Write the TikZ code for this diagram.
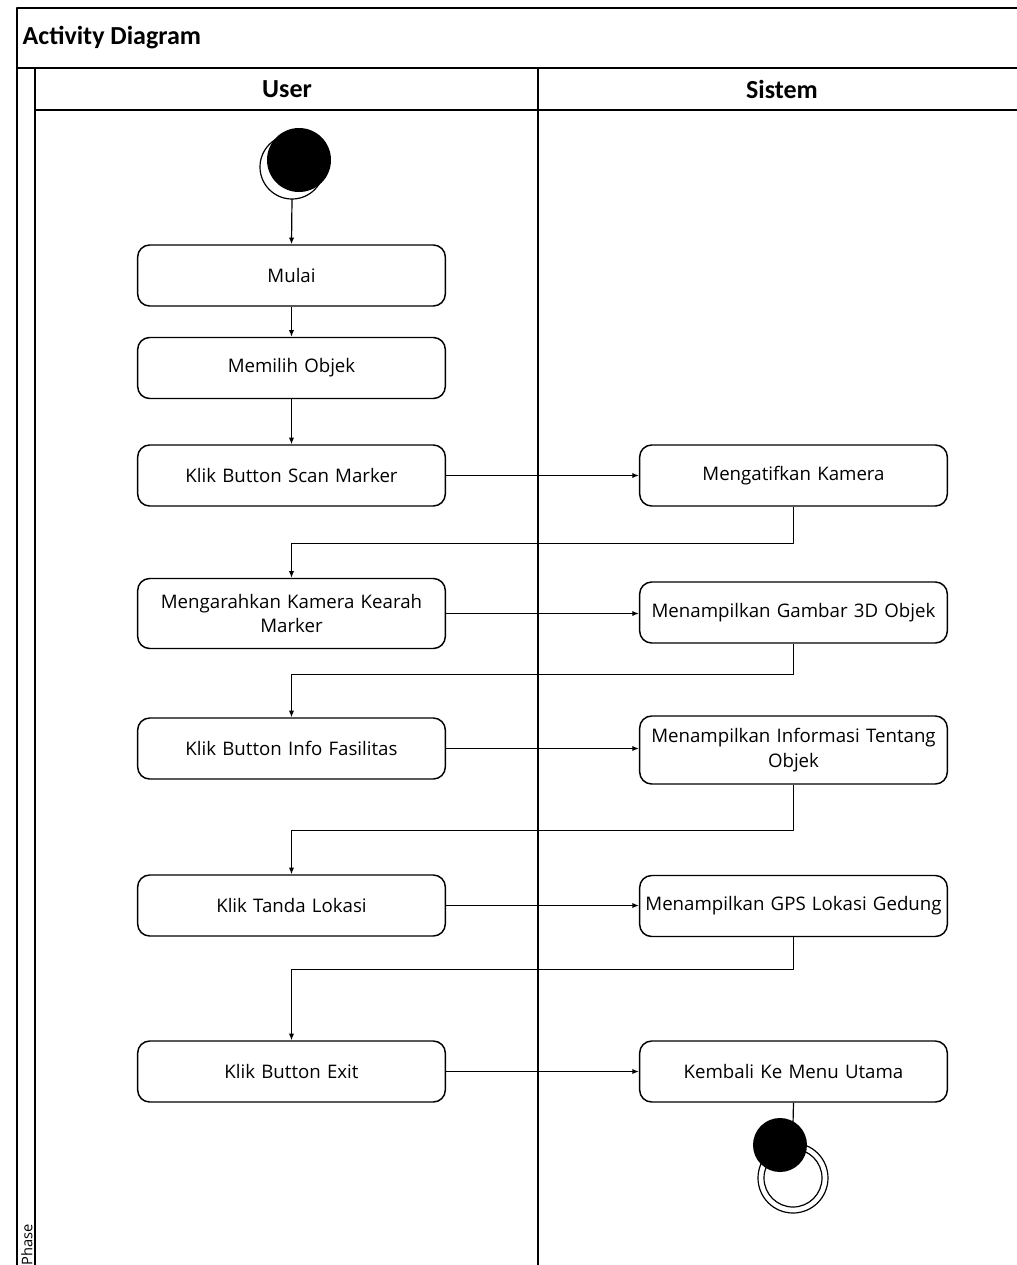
\documentclass[tikz,border=0pt]{standalone}
\usepackage{fontspec}
\setmainfont{Open Sans}
\newfontfamily\headfont{Carlito}
\usetikzlibrary{arrows.meta}

\tikzset{
  act/.style={draw,line width=1.1pt,rounded corners=9pt,minimum width=307*0.75pt,
    minimum height=61*0.75pt,align=center,text width=305*0.75pt,font=\fontsize{14}{18.5}\selectfont,inner sep=1pt},
  flow/.style={line width=0.9pt,-{Latex[length=5pt,width=4pt]}},
  lane/.style={line width=1.3pt},
  head/.style={font=\headfont\bfseries\fontsize{19.5}{22}\selectfont}
}

\begin{document}
\begin{tikzpicture}[x=0.75pt,y=-0.75pt,line join=round]
  \useasboundingbox (0,0) rectangle (1017,1265);

  % frame and lanes
  \draw[lane] (1017,8) -- (17,8) -- (17,1265);
  \draw[lane] (17,68) -- (1017,68);
  \draw[lane] (35,68) -- (35,1265);
  \draw[lane] (35,110) -- (1017,110);
  \draw[lane] (538,68) -- (538,1265);
  \node[head,anchor=west] (title) at (18,38) {Activity Diagram};
  \node[head] (user) at (287,89) {User};
  \node[head] (sistem) at (782,89) {Sistem};
  \node[rotate=90,anchor=west,font=\fontsize{11}{12}\selectfont,inner sep=0pt] (phase) at (27,1266) {Phase};

  % start
  \draw[line width=0.9pt] (292,167) circle (32);
  \node[circle,fill=black,minimum size=64*0.75pt,inner sep=0pt] (start) at (299,160) {};

  % user activities
  \node[act] (mulai) at (291.5,275.5) {Mulai};
  \node[act] (pilih) at (291.5,368) {Memilih Objek};
  \node[act] (scan) at (291.5,475.5) {Klik Button Scan Marker};
  \node[act,minimum height=70*0.75pt] (arah) at (291.5,613.5) {Mengarahkan Kamera Kearah\\Marker};
  \node[act] (info) at (291.5,748.5) {Klik Button Info Fasilitas};
  \node[act] (lokasi) at (291.5,905.5) {Klik Tanda Lokasi};
  \node[act] (exit) at (291.5,1071.5) {Klik Button Exit};

  % system activities
  \node[act] (kamera) at (793.5,475.5) {Mengatifkan Kamera};
  \node[act] (gambar) at (793.5,612.5) {Menampilkan Gambar 3D Objek};
  \node[act,minimum height=68*0.75pt] (informasi) at (793.5,750) {Menampilkan Informasi Tentang\\Objek};
  \node[act] (gps) at (793.5,906) {Menampilkan GPS Lokasi Gedung};
  \node[act] (kembali) at (793.5,1071.5) {Kembali Ke Menu Utama};

  % end
  \draw[line width=0.9pt] (793,1178) circle (35);
  \draw[line width=0.9pt] (793,1178) circle (29);
  \node[circle,fill=black,minimum size=54*0.75pt,inner sep=0pt] (stop) at (780,1145) {};

  % flows
  \draw[flow] (292,199) -- (mulai.north);
  \draw[flow] (mulai) -- (pilih);
  \draw[flow] (pilih) -- (scan);
  \draw[flow] (scan) -- (kamera);
  \draw[flow] (arah) -- (arah -| gambar.west);
  \draw[flow] (info) -- (info -| informasi.west);
  \draw[flow] (lokasi) -- (lokasi -| gps.west);
  \draw[flow] (exit) -- (kembali);
  \draw[flow] (kamera.south) -- ++(0,37) -| (arah.north);
  \draw[flow] (gambar.south) -- ++(0,31) -| (info.north);
  \draw[flow] (informasi.south) -- ++(0,46) -| (lokasi.north);
  \draw[flow] (gps.south) -- ++(0,32) -| (exit.north);
  \draw[line width=0.9pt] (kembali.south) -- (793,1124);
\end{tikzpicture}
\end{document}
